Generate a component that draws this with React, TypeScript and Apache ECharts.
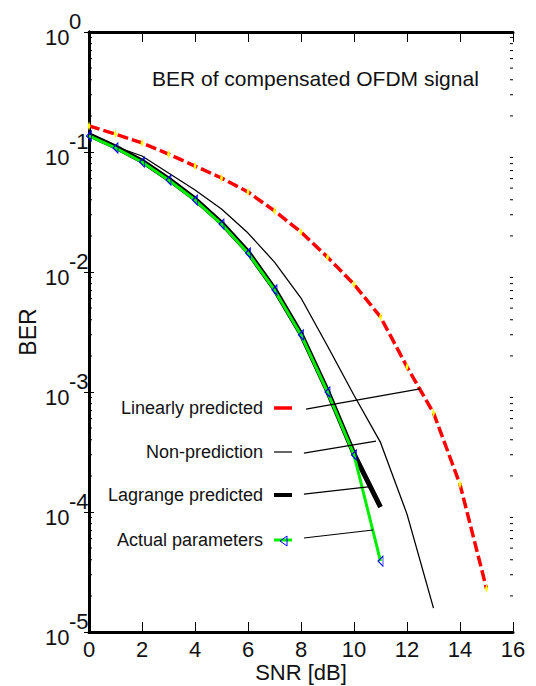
import React, { useEffect, useRef } from "react";
import * as echarts from "echarts";

const snr = [0, 1, 2, 3, 4, 5, 6, 7, 8, 9, 10, 11, 12, 13, 14, 15];
const linearBER = [0.165, 0.141, 0.119, 0.096, 0.0764, 0.0607, 0.0464, 0.0323, 0.0215, 0.0133, 0.0079, 0.00422, 0.00162, 0.00067, 0.00017, 0.000023];
const nonPredBER = [0.144, 0.111, 0.0926, 0.0668, 0.0482, 0.0335, 0.0211, 0.0121, 0.00607, 0.00242, 0.00094, 0.00038, 0.000096, 0.0000158];
const lagrangeBER = [0.139, 0.11, 0.084, 0.0595, 0.0405, 0.0256, 0.0147, 0.0072, 0.00304, 0.00102, 0.000305, 0.00011];
const actualBER = [0.136, 0.108, 0.0825, 0.0584, 0.0398, 0.0251, 0.0144, 0.00708, 0.00299, 0.001, 0.000299, 0.000039];

const seriesNames = ["Linearly predicted", "Non-prediction", "Lagrange predicted", "Actual parameters"];

// leader lines from legend entries to curves, in data coordinates [snr, ber]
const leaderLinear = [[8.19, 7.21e-4], [12.49, 1.06e-3]];
const leaderNonPred = [[8.11, 3.1e-4], [10.83, 3.9e-4]];
const leaderLagrange = [[8.11, 1.41e-4], [10.53, 1.62e-4]];
const leaderActual = [[8.11, 6.07e-5], [10.72, 7.08e-5]];

const minorTickValues: number[] = [];
for (let d = -5; d < 0; d++) {
  for (let m = 2; m <= 9; m++) minorTickValues.push(m * Math.pow(10, d));
}

const FONT = "Liberation Sans, Arial, sans-serif";

const zip = (xs: number[], ys: number[]) => ys.map((y, i) => [xs[i], y]);

export default function App() {
  const ref = useRef<HTMLDivElement>(null);
  useEffect(() => {
    if (!ref.current) return;
    const chart = echarts.init(ref.current, null, { renderer: "svg" });
    const leader = (data: number[][]) => ({
      type: "line",
      data,
      symbol: "none",
      silent: true,
      lineStyle: { color: "#000", width: 1.2 },
      z: 5,
    });
    const legendRow = (name: string, center: number, h: number, color: string) => ({
      data: [name],
      right: 244,
      top: center - 10,
      align: "right",
      orient: "vertical",
      padding: 0,
      icon: "rect",
      itemWidth: 18,
      itemHeight: h,
      itemStyle: { color, borderWidth: 0 },
      selectedMode: false,
      textStyle: { fontSize: 18, color: "#111", fontFamily: FONT, padding: [0, 6, 0, 0] },
    });
    chart.setOption({
      animation: false,
      backgroundColor: "#fff",
      textStyle: { fontFamily: FONT },
      title: {
        text: "BER of compensated OFDM signal",
        left: 147,
        top: 63,
        textStyle: { fontSize: 21, fontWeight: "normal", color: "#111", fontFamily: FONT },
      },
      legend: [
        legendRow(seriesNames[0], 409, 3.5, "#ff0000"),
        legendRow(seriesNames[1], 453, 1.2, "#000"),
        legendRow(seriesNames[2], 496, 4, "#000"),
        legendRow(seriesNames[3], 541, 3, "#00ee00"),
      ],
      graphic: [
        {
          type: "polygon",
          shape: { points: [[287, 536], [280, 541], [287, 546]] },
          style: { fill: "none", stroke: "#0000ff", lineWidth: 1 },
          z: 100,
        },
      ],
      grid: { left: 89, right: 23, top: 32, bottom: 54, show: false, containLabel: false, outerBoundsMode: "none" },
      xAxis: [
        {
          type: "value",
          min: 0,
          max: 16,
          interval: 2,
          position: "bottom",
          name: "SNR [dB]",
          nameLocation: "middle",
          nameGap: 29,
          nameMoveOverlap: false,
          nameTextStyle: { fontSize: 22, color: "#111", fontFamily: FONT },
          axisLine: { show: true, lineStyle: { color: "#000", width: 3 } },
          axisTick: { show: true, inside: true, length: 10, lineStyle: { color: "#000", width: 1 } },
          axisLabel: { fontSize: 22, color: "#111", margin: 6, fontFamily: FONT },
          splitLine: { show: false },
        },
        {
          type: "value",
          min: 0,
          max: 16,
          interval: 2,
          position: "top",
          axisLine: { show: true, lineStyle: { color: "#000", width: 3 } },
          axisTick: { show: true, inside: true, length: 10, lineStyle: { color: "#000", width: 1 } },
          axisLabel: { show: false },
          splitLine: { show: false },
        },
      ],
      yAxis: [
        {
          type: "log",
          logBase: 10,
          min: 1e-5,
          max: 1,
          splitNumber: 5,
          position: "left",
          name: "BER",
          nameLocation: "middle",
          nameGap: 50,
          nameMoveOverlap: false,
          nameTextStyle: { fontSize: 23, color: "#111", fontFamily: FONT },
          axisLine: { show: true, lineStyle: { color: "#000", width: 3 } },
          axisTick: { show: true, inside: true, length: 5, lineStyle: { color: "#000", width: 1 } },
          axisLabel: {
            margin: 44,
            align: "left",
            formatter: (v: number) => `{e|${Math.round(Math.log10(v))}}\n{b|10}`,
            rich: {
              e: { fontSize: 22, lineHeight: 10, color: "#111", fontFamily: FONT, padding: [0, 0, 0, 24] },
              b: { fontSize: 22, lineHeight: 22, color: "#111", fontFamily: FONT },
            },
          },
          splitLine: { show: false },
        },
        {
          type: "log",
          logBase: 10,
          min: 1e-5,
          max: 1,
          splitNumber: 5,
          position: "right",
          axisLine: { show: true, lineStyle: { color: "#000", width: 3 } },
          axisTick: { show: true, inside: true, length: 5, lineStyle: { color: "#000", width: 1 } },
          axisLabel: { show: false },
          splitLine: { show: false },
        },
      ],
      series: [
        {
          type: "custom",
          silent: true,
          clip: false,
          data: minorTickValues.map((v) => [0, v]),
          renderItem: (params: any, api: any) => {
            const v = api.value(1);
            const pl = api.coord([0, v]);
            const pr = api.coord([16, v]);
            return {
              type: "group",
              children: [
                { type: "line", shape: { x1: pl[0], y1: pl[1], x2: pl[0] + 3, y2: pl[1] }, style: { stroke: "#000", lineWidth: 1 } },
                { type: "line", shape: { x1: pr[0] - 3, y1: pr[1], x2: pr[0], y2: pr[1] }, style: { stroke: "#000", lineWidth: 1 } },
              ],
            };
          },
          z: 1,
        },
        {
          name: seriesNames[0],
          type: "line",
          data: zip(snr, linearBER),
          lineStyle: { color: "#ff0000", width: 3.5, type: [11, 4] },
          itemStyle: { color: "#ffff00" },
          symbol: "diamond",
          symbolSize: [3, 9],
          z: 3,
        },
        {
          name: seriesNames[1],
          type: "line",
          data: zip(snr, nonPredBER),
          lineStyle: { color: "#000", width: 1.3 },
          itemStyle: { color: "#000" },
          symbol: "none",
          z: 3,
        },
        {
          name: seriesNames[2],
          type: "line",
          data: zip(snr, lagrangeBER),
          lineStyle: { color: "#000", width: 5 },
          itemStyle: { color: "#000" },
          symbol: "none",
          z: 3,
        },
        {
          name: seriesNames[3],
          type: "line",
          data: zip(snr, actualBER),
          lineStyle: { color: "#00ee00", width: 3 },
          itemStyle: { color: "rgba(0,0,0,0)", borderColor: "#0000ff", borderWidth: 1 },
          symbol: "path://M10,0 L0,5 L10,10 Z",
          symbolSize: [5, 10],
          symbolKeepAspect: false,
          z: 4,
        },
        leader(leaderLinear),
        leader(leaderNonPred),
        leader(leaderLagrange),
        leader(leaderActual),
      ],
    });
    return () => chart.dispose();
  }, []);
  return <div ref={ref} style={{ width: 536, height: 686, position: "absolute", left: 0, top: 0 }} />;
}
